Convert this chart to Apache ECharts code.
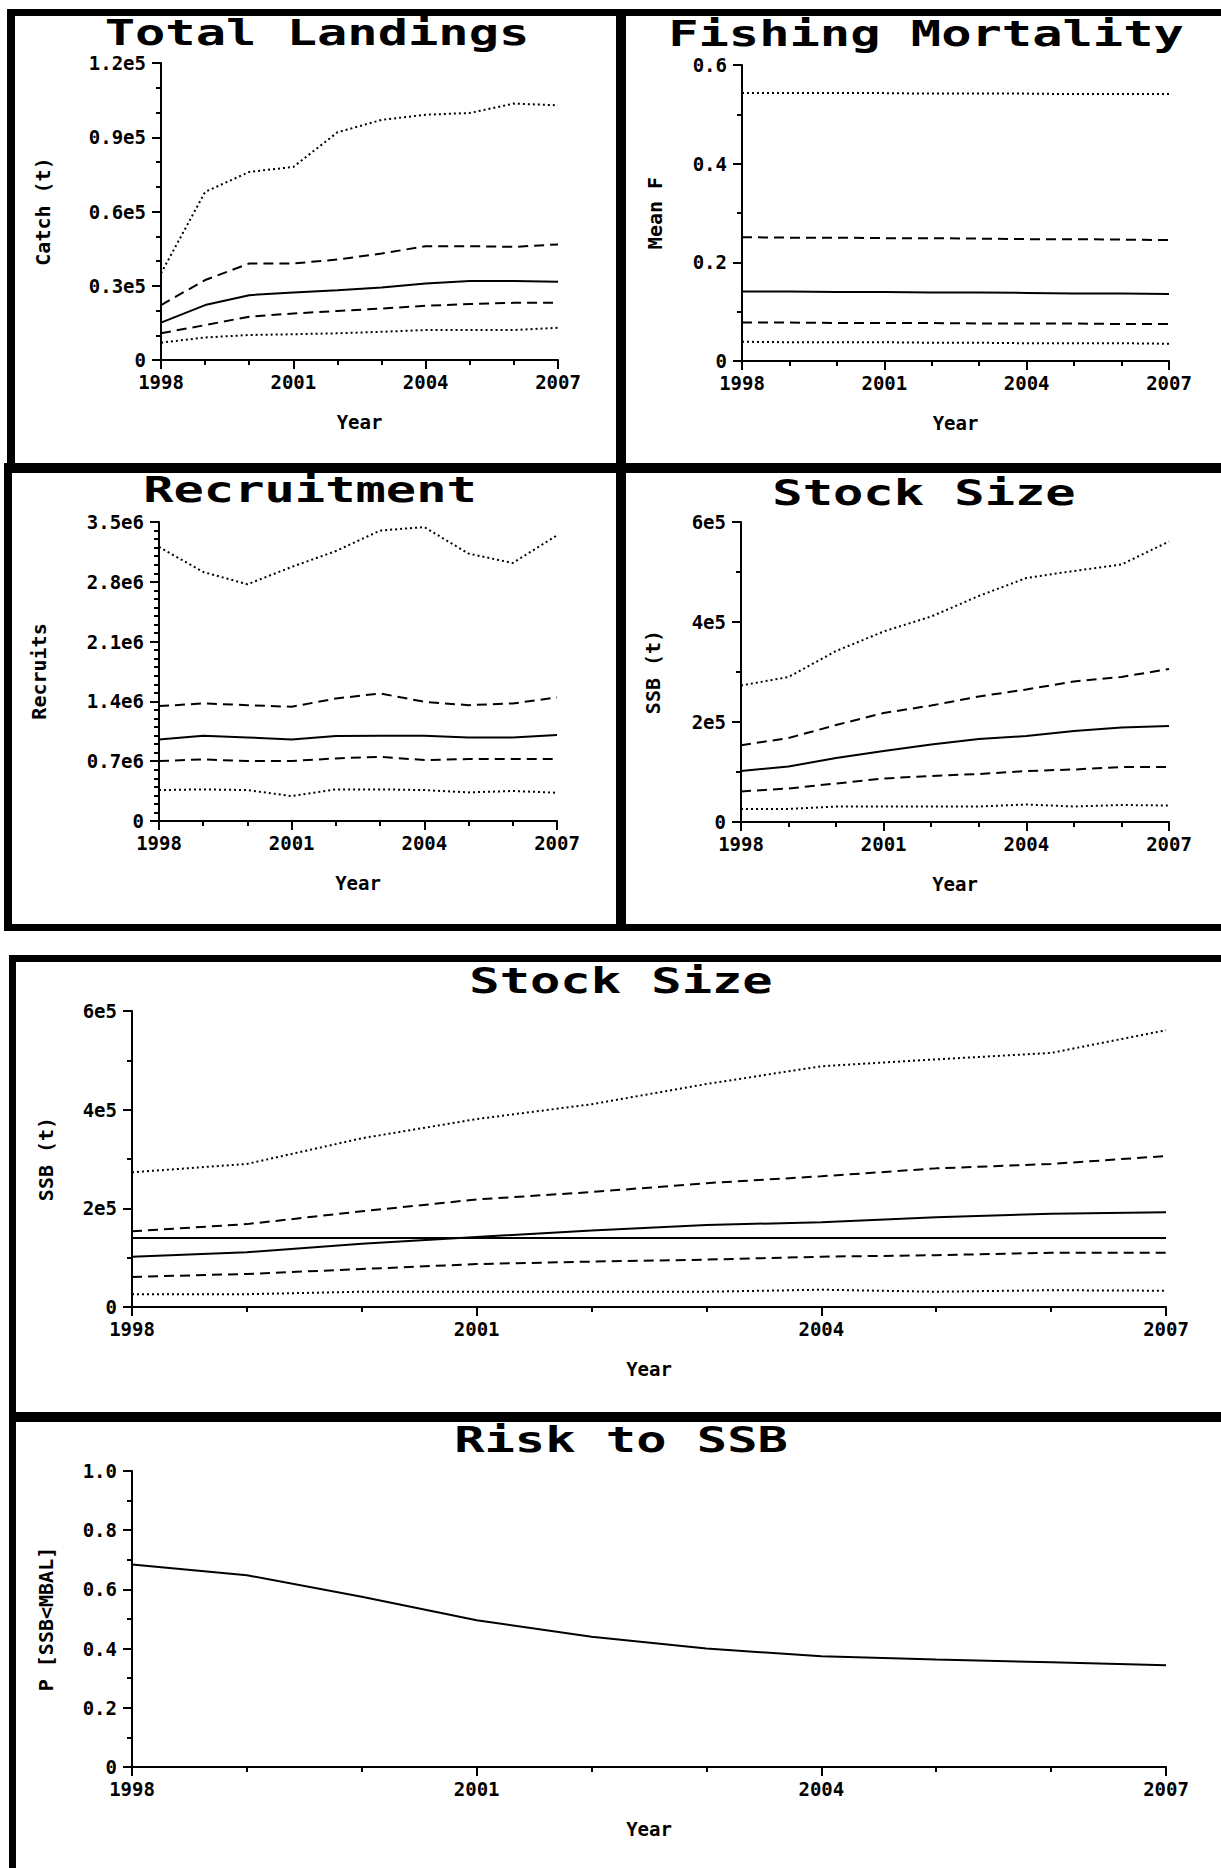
<!DOCTYPE html>
<html><head><meta charset="utf-8">
<script src="https://cdn.jsdelivr.net/npm/echarts@6/dist/echarts.min.js"></script>
<style>html,body{margin:0;padding:0;background:#fff}#c{width:1221px;height:1868px}</style>
</head><body><div id="c"></div>
<script>
// ---------- data ----------
const years = [1998, 1999, 2000, 2001, 2002, 2003, 2004, 2005, 2006, 2007];

const landHi    = [35000, 67900, 76000, 78000, 92000, 97000, 99100, 99800, 103600, 102900];
const landUpper = [22200, 32300, 39000, 39000, 40600, 43000, 46000, 46000, 45700, 46700];
const landMed   = [15100, 22200, 26200, 27300, 28200, 29300, 30900, 31900, 31900, 31600];
const landLower = [10800, 14100, 17500, 18800, 19800, 20800, 21900, 22600, 23100, 23100];
const landLo    = [7000, 9100, 10100, 10400, 10800, 11400, 12100, 12100, 12100, 13000];

const fHi    = [0.543, 0.543, 0.543, 0.543, 0.542, 0.542, 0.542, 0.541, 0.541, 0.541];
const fUpper = [0.251, 0.250, 0.250, 0.249, 0.249, 0.248, 0.247, 0.247, 0.246, 0.245];
const fMed   = [0.141, 0.141, 0.140, 0.140, 0.139, 0.139, 0.138, 0.137, 0.137, 0.136];
const fLower = [0.078, 0.078, 0.077, 0.077, 0.077, 0.076, 0.076, 0.076, 0.075, 0.075];
const fLo    = [0.039, 0.038, 0.038, 0.038, 0.037, 0.037, 0.036, 0.036, 0.036, 0.035];

const recHi    = [3208000, 2915000, 2771000, 2974000, 3160000, 3400000, 3440000, 3130000, 3020000, 3344000];
const recUpper = [1345000, 1376000, 1356000, 1337000, 1434000, 1493000, 1395000, 1356000, 1376000, 1446000];
const recMed   = [955000, 998000, 978000, 955000, 994000, 998000, 998000, 978000, 978000, 1006000];
const recLower = [702000, 721000, 702000, 702000, 733000, 752000, 713000, 725000, 725000, 725000];
const recLo    = [362000, 370000, 362000, 292000, 370000, 370000, 362000, 335000, 351000, 331000];

const ssbHi    = [273000, 290000, 342000, 381000, 411000, 452000, 488000, 502000, 515000, 561000];
const ssbUpper = [153500, 168000, 194000, 218000, 233000, 251000, 265000, 281000, 290000, 306000];
const ssbMed   = [102000, 111000, 128000, 142000, 155000, 166000, 172000, 182000, 189000, 192000];
const ssbLower = [61000, 67000, 77000, 87000, 92000, 96000, 102000, 105000, 110000, 110000];
const ssbLo    = [26000, 26000, 31000, 31000, 31000, 31000, 35000, 31000, 34000, 33000];
const mbal = 140000;

const risk = [0.684, 0.648, 0.575, 0.496, 0.440, 0.400, 0.374, 0.363, 0.354, 0.344];

// tick labels
const landTicks = ['0', '0.3e5', '0.6e5', '0.9e5', '1.2e5'];
const fTicks    = ['0', '0.2', '0.4', '0.6'];
const recTicks  = ['0', '0.7e6', '1.4e6', '2.1e6', '2.8e6', '3.5e6'];
const ssbTicks  = ['0', '2e5', '4e5', '6e5'];
const riskTicks = ['0', '0.2', '0.4', '0.6', '0.8', '1.0'];

const titles = ['Total Landings', 'Fishing Mortality', 'Recruitment', 'Stock Size', 'Stock Size', 'Risk to SSB'];
const yNames = ['Catch (t)', 'Mean F', 'Recruits', 'SSB (t)', 'SSB (t)', 'P [SSB<MBAL]'];

// ---------- layout ----------
const FONT = '"DejaVu Sans Mono", "Liberation Mono", monospace';
const grids = [
  {left: 161, top: 63,   width: 397,  height: 297},
  {left: 742, top: 65,   width: 427,  height: 296},
  {left: 159, top: 522,  width: 398,  height: 299},
  {left: 741, top: 522,  width: 428,  height: 300},
  {left: 132, top: 1011, width: 1034, height: 296},
  {left: 132, top: 1471, width: 1034, height: 296}
];
const yCfg = [
  {max: 120000, interval: 30000, ticks: landTicks, minor: 3, gap: 108},
  {max: 0.6, interval: 0.2, ticks: fTicks, minor: 2, gap: 77},
  {max: 3500000, interval: 700000, ticks: recTicks, minor: 7, gap: 110},
  {max: 600000, interval: 200000, ticks: ssbTicks, minor: 2, gap: 78},
  {max: 600000, interval: 200000, ticks: ssbTicks, minor: 2, gap: 76},
  {max: 1.0, interval: 0.2, ticks: riskTicks, minor: 2, gap: 76}
];
const titlePos = [[317, 33], [926, 34], [310, 490], [924, 493], [621, 981], [621, 1440]];

const black = '#000';
const lbl = {color: black, fontFamily: FONT, fontWeight: 'bold', fontSize: 19};

const xAxes = grids.map((g, i) => ({
  type: 'value', gridIndex: i, min: 1998, max: 2007, interval: 3,
  name: 'Year', nameLocation: 'middle', nameGap: 52,
  nameTextStyle: {color: black, fontFamily: FONT, fontWeight: 'bold', fontSize: 19},
  axisLine: {show: true, onZero: false, lineStyle: {color: black, width: 2}},
  axisTick: {show: true, length: 9, lineStyle: {color: black, width: 2}},
  minorTick: {show: true, splitNumber: 3, length: 5, lineStyle: {color: black, width: 2}},
  splitLine: {show: false}, minorSplitLine: {show: false},
  axisLabel: Object.assign({margin: 12, formatter: v => String(v)}, lbl)
}));

const yAxes = yCfg.map((c, i) => ({
  type: 'value', gridIndex: i, min: 0, max: c.max, interval: c.interval,
  name: yNames[i], nameLocation: 'middle', nameGap: c.gap,
  nameTextStyle: {color: black, fontFamily: FONT, fontWeight: 'bold', fontSize: 20},
  axisLine: {show: true, lineStyle: {color: black, width: 2}},
  axisTick: {show: true, length: 9, lineStyle: {color: black, width: 2}},
  minorTick: {show: true, splitNumber: c.minor, length: 5, lineStyle: {color: black, width: 2}},
  splitLine: {show: false}, minorSplitLine: {show: false},
  axisLabel: Object.assign({margin: 15, formatter: v => c.ticks[Math.round(v / c.interval)]}, lbl)
}));

const DOT = [2, 3], DASH = [10, 6];
function line(idx, vals, type, extra) {
  return Object.assign({
    type: 'line', xAxisIndex: idx, yAxisIndex: idx, symbol: 'none', silent: true,
    data: years.map((y, k) => [y, vals[k]]),
    lineStyle: {color: black, width: 2, type: type}
  }, extra || {});
}
const panels = [
  [landHi, landUpper, landMed, landLower, landLo],
  [fHi, fUpper, fMed, fLower, fLo],
  [recHi, recUpper, recMed, recLower, recLo],
  [ssbHi, ssbUpper, ssbMed, ssbLower, ssbLo],
  [ssbHi, ssbUpper, ssbMed, ssbLower, ssbLo]
];
const series = [];
panels.forEach((p, i) => {
  series.push(line(i, p[0], DOT));
  series.push(line(i, p[1], DASH));
  series.push(line(i, p[2], 'solid', i === 4 ? {
    markLine: {silent: true, symbol: 'none', label: {show: false},
      lineStyle: {color: black, width: 2, type: 'solid'}, data: [{yAxis: mbal}]}
  } : null));
  series.push(line(i, p[3], DASH));
  series.push(line(i, p[4], DOT));
});
series.push(line(5, risk, 'solid'));

// frames
const frames = [
  [7, 9, 1214, 7], [7, 9, 8, 464], [616, 9, 10, 922], [4, 463, 1217, 10],
  [4, 463, 8, 468], [4, 924, 1217, 7], [9, 955, 1212, 7], [9, 955, 7, 913],
  [9, 1412, 1212, 10]
];
const graphic = frames.map(f => ({
  type: 'rect', silent: true, shape: {x: f[0], y: f[1], width: f[2], height: f[3]},
  style: {fill: black}
})).concat(titles.map((t, i) => ({
  type: 'text', silent: true, x: titlePos[i][0], y: titlePos[i][1], scaleX: 1.44, scaleY: 1,
  style: {text: t, font: 'bold 35px ' + FONT, fill: black,
    textAlign: 'center', textVerticalAlign: 'middle', align: 'center', verticalAlign: 'middle'}
})));

const chart = echarts.init(document.getElementById('c'), null, {renderer: 'svg', width: 1221, height: 1868});
chart.setOption({
  animation: false,
  backgroundColor: '#fff',
  grid: grids.map(g => Object.assign({containLabel: false, outerBoundsMode: 'none'}, g)),
  xAxis: xAxes,
  yAxis: yAxes,
  series: series,
  graphic: graphic
});
</script></body></html>
